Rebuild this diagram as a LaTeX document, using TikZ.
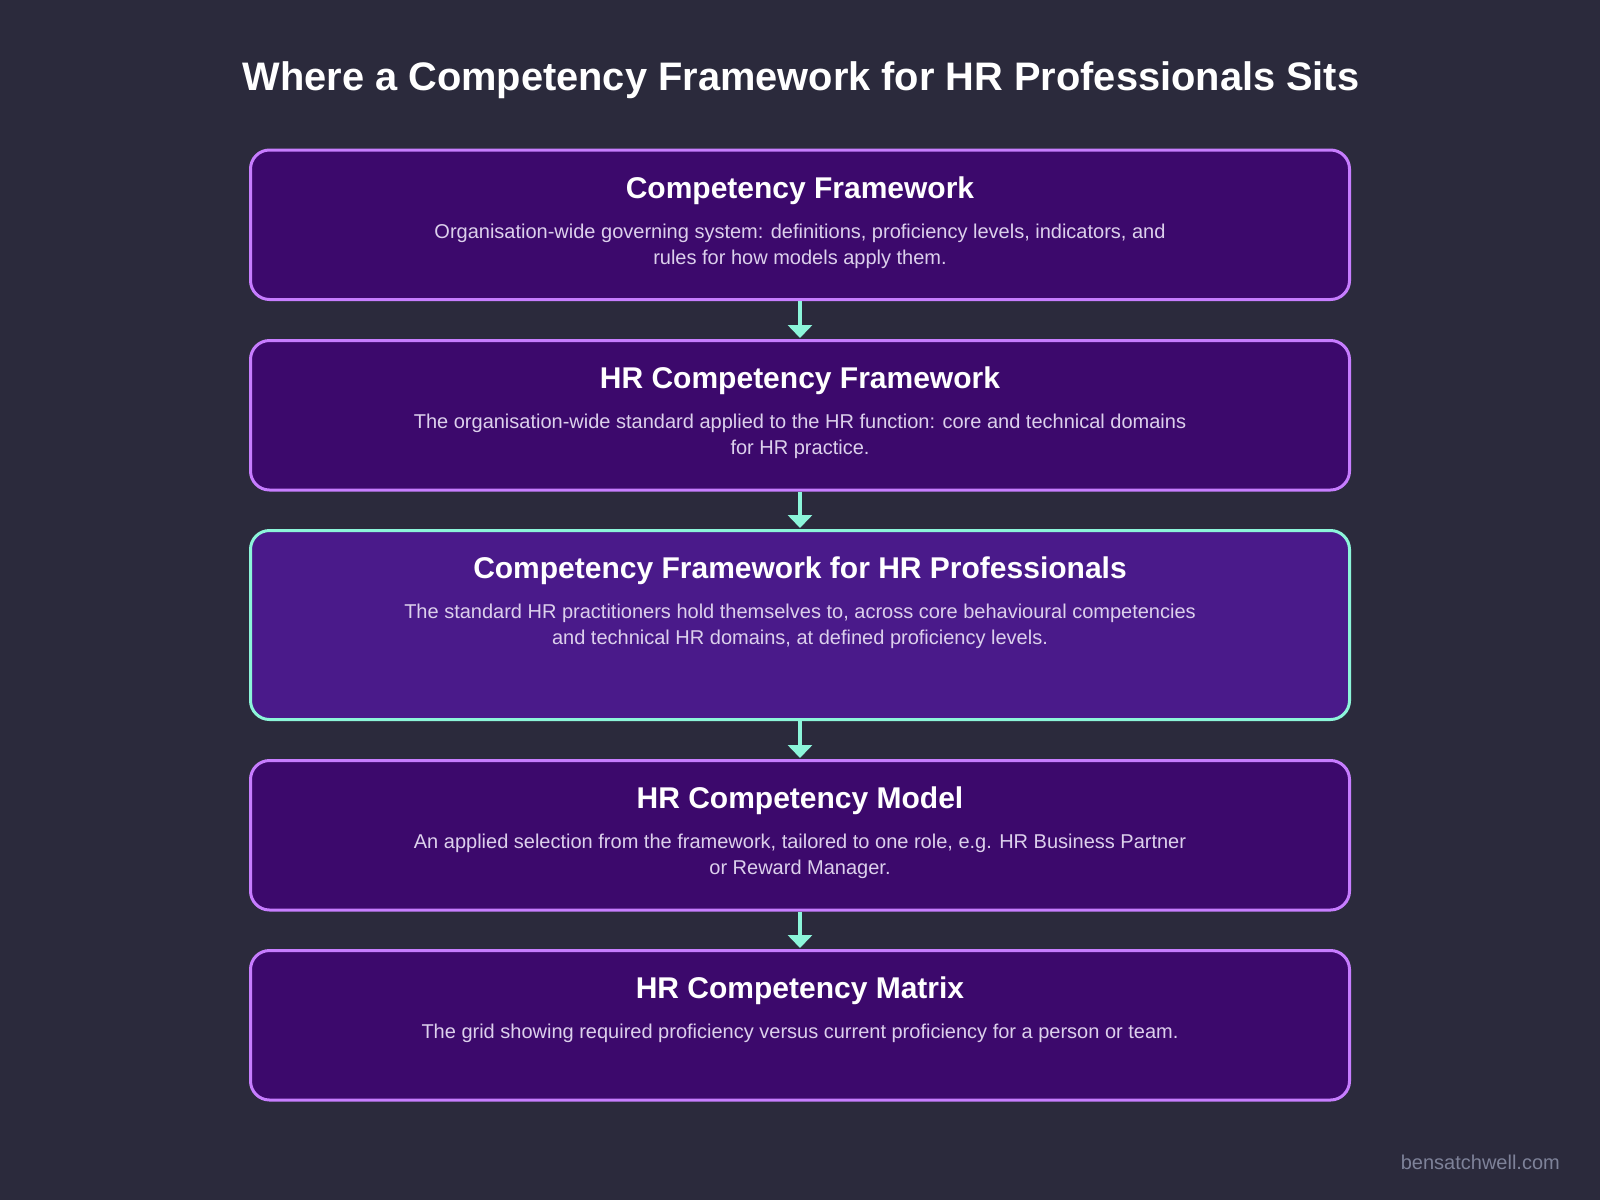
\documentclass[tikz,border=0pt]{standalone}
\usepackage{fontspec}
\setmainfont{Liberation Sans}
\usetikzlibrary{arrows.meta}
\definecolor{bgc}{HTML}{2B2A3C}
\definecolor{boxfill}{HTML}{3C096C}
\definecolor{boxhi}{HTML}{4A1A8A}
\definecolor{boxline}{HTML}{C77DFF}
\definecolor{mint}{HTML}{8CF5DA}
\definecolor{bodytext}{HTML}{DCD0EC}
\definecolor{marktext}{HTML}{7E8299}
\tikzset{
  card/.style={draw=boxline, fill=boxfill, line width=3pt, rounded corners=19pt,
    minimum width=1099pt, minimum height=149.5pt, anchor=north, inner sep=0pt},
  cardhi/.style={card, draw=mint, fill=boxhi, minimum height=189pt},
  head/.style={text=white, font=\fontsize{30}{36}\selectfont\bfseries, anchor=base, inner sep=0pt},
  body/.style={text=bodytext, font=\fontsize{20}{26}\selectfont, align=center, anchor=base, inner sep=0pt},
  link/.style={draw=mint, line width=4.5pt, -{Triangle[width=24pt,length=13pt]}, shorten >=1pt},
}
\begin{document}
\begin{tikzpicture}[x=1pt,y=-1pt]
\fill[bgc] (0,0) rectangle (1600,1200);
\useasboundingbox (0,0) rectangle (1600,1200);
\node[text=white, font=\fontsize{39.8}{48}\selectfont\bfseries, anchor=base, inner sep=0pt] (title) at (801,90) {Where a Competency Framework for HR Professionals Sits};

\node[card] (b1) at (800,148.5) {};
\node[card] (b2) at (800,339) {};
\node[cardhi] (b3) at (800,529) {};
\node[card] (b4) at (800,759) {};
\node[card] (b5) at (800,949) {};

\node[head] (h1) at (800,198) {Competency Framework};
\node[body] (d1) at (800,264) {Organisation-wide governing system: definitions, proficiency levels, indicators, and\\rules for how models apply them.};

\node[head] (h2) at (800,388) {HR Competency Framework};
\node[body] (d2) at (800,454) {The organisation-wide standard applied to the HR function: core and technical domains\\for HR practice.};

\node[head] (h3) at (800,578) {Competency Framework for HR Professionals};
\node[body] (d3) at (800,644) {The standard HR practitioners hold themselves to, across core behavioural competencies\\and technical HR domains, at defined proficiency levels.};

\node[head] (h4) at (800,808) {HR Competency Model};
\node[body] (d4) at (800,874) {An applied selection from the framework, tailored to one role, e.g. HR Business Partner\\or Reward Manager.};

\node[head] (h5) at (800,998) {HR Competency Matrix};
\node[body] (d5) at (800,1038) {The grid showing required proficiency versus current proficiency for a person or team.};

\draw[link] (b1.south) -- (b2.north);
\draw[link] (b2.south) -- (b3.north);
\draw[link] (b3.south) -- (b4.north);
\draw[link] (b4.south) -- (b5.north);

\node[text=marktext, font=\fontsize{20}{24}\selectfont, anchor=base east, inner sep=0pt] (mark) at (1560,1169) {bensatchwell.com};
\end{tikzpicture}
\end{document}
